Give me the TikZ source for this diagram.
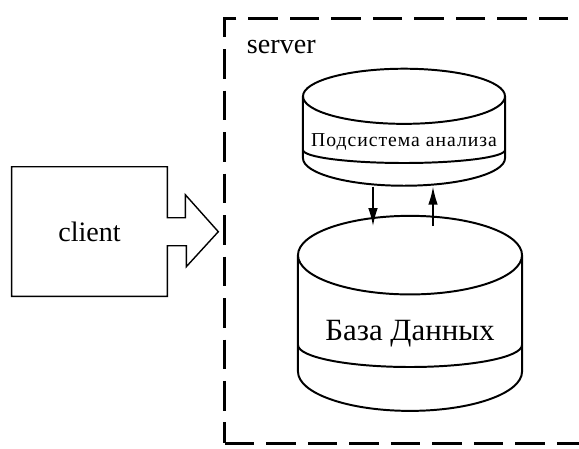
\documentclass[tikz,border=0pt]{standalone}
\usepackage{fontspec}
\setmainfont{Liberation Serif}
\usetikzlibrary{shapes.geometric, arrows.meta}

\begin{document}
\begin{tikzpicture}[x=0.025cm, y=-0.025cm]
      \tikzstyle{serverbox} = [
        rectangle,
        draw,
        line width = 2.1pt,
        dash pattern = on 21pt off 8.5pt,
        minimum width = 9.875cm,
        minimum height = 10.6cm
      ]

      \tikzstyle{clientbox} = [
        rectangle,
        minimum width = 3.875cm,
        minimum height = 3.225cm,
        font = \fontsize{20}{24}\selectfont
      ]

      \tikzstyle{db} = [
        cylinder,
        shape border rotate = 90,
        draw,
        line width = 1.4pt,
        inner sep = 0pt
      ]

      \tikzstyle{link} = [
        line width = 1.1pt,
        -{Latex[length=0.45cm, width=0.24cm]}
      ]

      \useasboundingbox (0,0) rectangle (579,448);

      \node[serverbox] (server) at (422.5,231) {};
      \node[anchor=base west, font=\fontsize{20}{24}\selectfont]
        (serverlabel) at (242,53) {server};

      \node[clientbox] (client) at (89.5,231.5) {client};

      \node[db, minimum width=5.05cm, minimum height=2.925cm, aspect=0.297,
        font=\fontsize{14}{16}\selectfont\addfontfeature{LetterSpace=5}]
        (analiz) at (404,141.5) {\raisebox{2pt}{Подсистема анализа}};
      \node[db, minimum width=5.6cm, minimum height=4.875cm, aspect=0.464,
        font=\fontsize{22}{26}\selectfont]
        (baza) at (410,333.5) {\raisebox{3pt}{База Данных}};

      % bands of the cylinders
      \draw[line width=1.4pt] (303,150) arc[start angle=180, end angle=0,
        x radius=101, y radius=13];
      \draw[line width=1.4pt] (298,345) arc[start angle=180, end angle=0,
        x radius=112, y radius=22];

      % client with its block arrow
      \draw[line width=1pt] (client.north west) -- (client.north east)
        -- ++(0,51) -- ++(18,0) -- ++(0,-23) -- ++(33,37) -- ++(-32,35)
        -- ++(0,-21) -- ++(-19,0) -- (client.south east)
        -- (client.south west) -- cycle;

      \coordinate (down) at (373,0);
      \coordinate (up) at (433,0);
      \draw[link] (analiz.south -| down) -- ([yshift=-8pt]baza.north -| down);
      \draw[link] ([yshift=-8pt]baza.north -| up) -- (analiz.south -| up);
    \end{tikzpicture}
\end{document}
